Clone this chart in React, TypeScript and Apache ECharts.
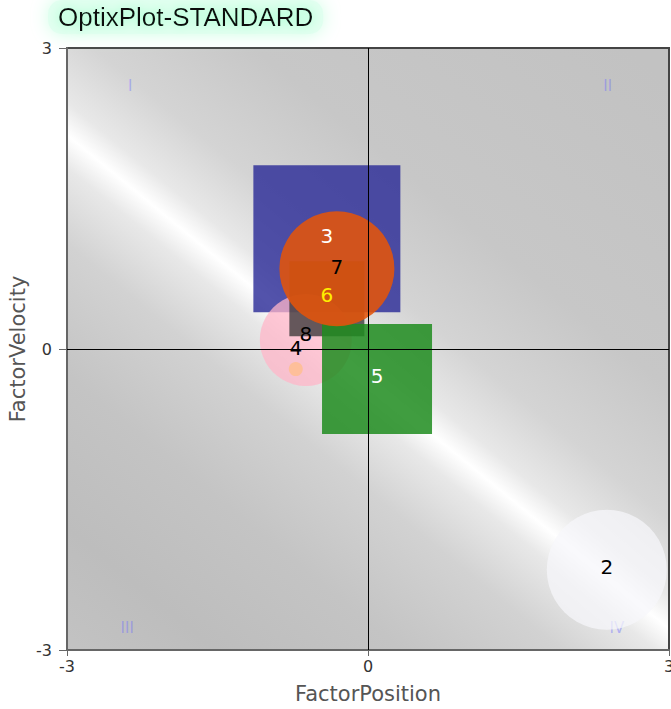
import React, { useEffect, useRef } from "react";
import * as echarts from "echarts";

// ---- data ----
const seriesNames = ["2", "3", "8", "6", "5", "7", "4"];
const xValues = [2.38, -0.41, -0.62, -0.41, 0.09, -0.31, -0.72];
const yValues = [-2.2, 1.1, 0.09, 0.5, -0.3, 0.8, -0.2];
const quadrantNames = ["I", "II", "III", "IV"];
const quadrantX = [-2.37, 2.39, -2.4, 2.48];
const quadrantY = [2.62, 2.62, -2.78, -2.78];
const axisMin = -3;
const axisMax = 3;
const axisInterval = 3;

// ---- styles (not data) ----
const styles: Record<string, any> = {
  "2": { symbol: "circle", size: 120, color: "rgba(246,247,251,0.72)", label: "#000", offset: [0, -3] },
  "3": { symbol: "rect", size: 147, color: "rgba(40,40,150,0.8)", label: "#fff", offset: [0, -3] },
  "8": { symbol: "circle", size: 92, color: "rgba(255,182,200,0.75)", label: "#000", offset: [0, -6] },
  "6": { symbol: "rect", size: 75, color: "rgba(50,50,50,0.75)", label: "#ffee00", offset: [0, -4] },
  "5": { symbol: "rect", size: 110, color: "rgba(30,140,30,0.85)", label: "#fff", offset: [0, -3] },
  "7": { symbol: "circle", size: 115, color: "rgba(228,84,10,0.88)", label: "#000", offset: [0, -2] },
  "4": { symbol: "circle", size: 14, color: "rgba(255,190,140,0.8)", label: "#000", offset: [0, -21] },
};

const font = "DejaVu Sans";

export default function App() {
  const ref = useRef<HTMLDivElement>(null);
  useEffect(() => {
    if (!ref.current) return;
    const chart = echarts.init(ref.current, undefined, { renderer: "svg" });
    const series: any[] = seriesNames.map((name, i) => {
      const st = styles[name];
      return {
        type: "scatter",
        name,
        symbol: st.symbol,
        symbolSize: st.size,
        itemStyle: { color: st.color, opacity: 1 },
        label: {
          show: true,
          position: "inside",
          formatter: name,
          color: st.label,
          fontSize: 20,
          fontFamily: font,
          offset: st.offset,
        },
        data: [[xValues[i], yValues[i]]],
        z: 2,
      };
    });
    series.push({
      type: "scatter",
      name: "quadrants",
      symbolSize: 0,
      silent: true,
      data: quadrantNames.map((q, i) => ({ value: [quadrantX[i], quadrantY[i]], name: q })),
      label: {
        show: true,
        position: "inside",
        formatter: (p: any) => p.name,
        color: "rgba(110,110,255,0.55)",
        fontSize: 15,
        fontFamily: font,
      },
      markLine: {
        silent: true,
        symbol: "none",
        label: { show: false },
        lineStyle: { color: "#000", width: 1, type: "solid" },
        data: [{ xAxis: 0 }, { yAxis: 0 }],
      },
      z: 1,
    });
    chart.setOption({
      animation: false,
      title: {
        text: "OptixPlot-STANDARD",
        left: 48,
        top: 0,
        padding: [4, 10, 4, 10],
        backgroundColor: "rgba(222,255,238,0.75)",
        borderRadius: 14,
        shadowColor: "rgba(190,255,220,1)",
        shadowBlur: 18,
        textStyle: {
          fontFamily: "Liberation Sans",
          fontSize: 26,
          fontWeight: "normal",
          color: "#111",
          textShadowColor: "rgba(150,255,200,0.9)",
          textShadowBlur: 10,
        },
      },
      grid: {
        left: 67,
        right: 2,
        top: 48,
        bottom: 59,
        outerBoundsMode: "none",
        containLabel: false,
        show: true,
        borderColor: "#444",
        borderWidth: 2,
        backgroundColor: {
          type: "linear",
          x: 0.944,
          y: 0.013,
          x2: 0.056,
          y2: 1.096,
          colorStops: [
            { offset: 0, color: "#c2c2c2" },
            { offset: 0.28, color: "#c7c7c7" },
            { offset: 0.4, color: "#d4d4d4" },
            { offset: 0.47, color: "#e8e8e8" },
            { offset: 0.5, color: "#ffffff" },
            { offset: 0.53, color: "#e8e8e8" },
            { offset: 0.6, color: "#d2d2d2" },
            { offset: 0.72, color: "#c4c4c4" },
            { offset: 0.86, color: "#bdbdbd" },
            { offset: 1, color: "#c4c4c4" },
          ],
        },
      },
      xAxis: {
        type: "value",
        min: axisMin,
        max: axisMax,
        interval: axisInterval,
        name: "FactorPosition",
        nameLocation: "middle",
        nameGap: 33,
        nameMoveOverlap: false,
        nameTextStyle: { fontFamily: font, fontSize: 21, color: "#555" },
        axisLine: { onZero: false, lineStyle: { color: "#666", width: 2 } },
        axisTick: { show: true, length: 6, lineStyle: { color: "#666" } },
        axisLabel: { fontFamily: font, fontSize: 16, color: "#333", margin: 8 },
        splitLine: { show: false },
      },
      yAxis: {
        type: "value",
        min: axisMin,
        max: axisMax,
        interval: axisInterval,
        name: "FactorVelocity",
        nameLocation: "middle",
        nameGap: 39,
        nameMoveOverlap: false,
        nameTextStyle: { fontFamily: font, fontSize: 21, color: "#555" },
        axisLine: { onZero: false, lineStyle: { color: "#666", width: 2 } },
        axisTick: { show: true, length: 8, lineStyle: { color: "#666" } },
        axisLabel: { fontFamily: font, fontSize: 16, color: "#333", margin: 15 },
        splitLine: { show: false },
      },
      series,
    });
    return () => chart.dispose();
  }, []);
  return <div ref={ref} style={{ width: 671, height: 709, position: "absolute", left: 0, top: 0 }} />;
}
